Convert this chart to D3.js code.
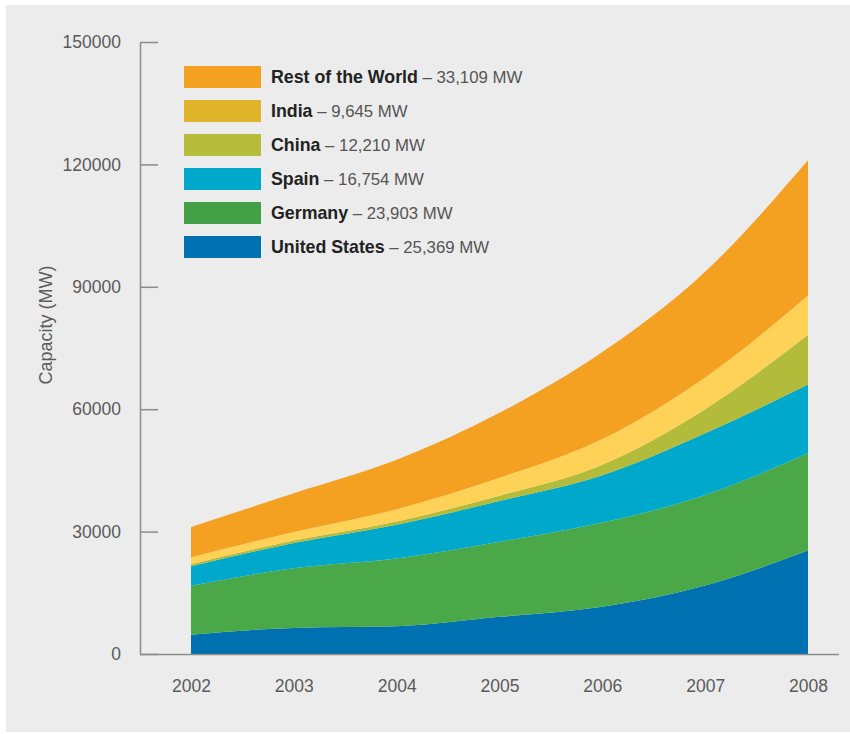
<!DOCTYPE html>
<html>
<head>
<meta charset="utf-8">
<script src="https://cdn.jsdelivr.net/npm/d3@7"></script>
<style>
  body { margin: 0; background: #fff; }
  #chart { position: absolute; left: 0; top: 0; }
  text { font-family: "Liberation Sans", Arial, sans-serif; }
</style>
</head>
<body>
<div id="chart"></div>
<script>
// data (MW, cumulative installed capacity)
var years = [2002, 2003, 2004, 2005, 2006, 2007, 2008];
var unitedStates = [4700, 6400, 6800, 9100, 11600, 16800, 25369];
var germany      = [12000, 14600, 16600, 18400, 20600, 22200, 23903];
var spain        = [4800, 6200, 8300, 10000, 11600, 15100, 16754];
var china        = [500, 600, 800, 1300, 2600, 5900, 12210];
var india        = [1700, 2100, 3000, 4400, 6300, 7800, 9645];
var restOfWorld  = [7400, 9500, 12100, 15900, 21300, 25900, 33109];
var yTicks = [0, 30000, 60000, 90000, 120000, 150000];

var seriesNames = ["United States", "Germany", "Spain", "China", "India", "Rest of the World"];
var areaColors  = ["#0071b0", "#4aa848", "#00a8cc", "#b3bb3b", "#fed157", "#f4a020"];
var swatchColors = ["#0071b0", "#43a047", "#00a8cc", "#b5bd3a", "#dfb42a", "#f4a020"];
var legendValues = ["25,369 MW", "23,903 MW", "16,754 MW", "12,210 MW", "9,645 MW", "33,109 MW"];

var table = years.map(function(yr, i) {
  return {
    year: yr,
    "United States": unitedStates[i],
    "Germany": germany[i],
    "Spain": spain[i],
    "China": china[i],
    "India": india[i],
    "Rest of the World": restOfWorld[i]
  };
});

var W = 850, H = 734;

var svg = d3.select("#chart")
  .append("svg")
  .attr("width", W)
  .attr("height", H);

// panel background
svg.append("rect")
  .attr("x", 6).attr("y", 5)
  .attr("width", 844).attr("height", 727)
  .attr("fill", "#ececec");

var x = d3.scalePoint()
  .domain(years)
  .range([191, 808]);

var y = d3.scaleLinear()
  .domain([0, 150000])
  .range([654, 42]);

var stack = d3.stack().keys(seriesNames);
var layers = stack(table);

var area = d3.area()
  .x(function(d) { return x(d.data.year); })
  .y0(function(d) { return y(d[0]); })
  .y1(function(d) { return y(d[1]); })
  .curve(d3.curveMonotoneX);

svg.append("g")
  .selectAll("path")
  .data(layers)
  .enter()
  .append("path")
    .attr("d", area)
    .attr("fill", function(d, i) { return areaColors[i]; });

// y axis
var yAxis = svg.append("g")
  .attr("transform", "translate(140,0)")
  .call(d3.axisLeft(y)
    .tickValues(yTicks)
    .tickFormat(d3.format("d"))
    .tickSizeInner(-18)
    .tickSizeOuter(0)
    .tickPadding(19));
yAxis.select(".domain").attr("stroke", "#8c8c8c").attr("stroke-width", 1.5);
yAxis.selectAll(".tick line").attr("stroke", "#8c8c8c").attr("stroke-width", 1.5);
yAxis.selectAll("text")
  .attr("fill", "#5a5a5a")
  .style("font-size", "17.5px");

// x axis
svg.append("line")
  .attr("x1", 140).attr("x2", 839)
  .attr("y1", 654.5).attr("y2", 654.5)
  .attr("stroke", "#8c8c8c")
  .attr("stroke-width", 1.5);

var xAxis = svg.append("g")
  .attr("transform", "translate(0,654)")
  .call(d3.axisBottom(x).tickSize(0).tickPadding(26));
xAxis.select(".domain").remove();
xAxis.selectAll("text")
  .attr("fill", "#5a5a5a")
  .style("font-size", "17.5px");

// y label
svg.append("text")
  .attr("transform", "translate(52,325) rotate(-90)")
  .attr("text-anchor", "middle")
  .attr("fill", "#5a5a5a")
  .style("font-size", "18px")
  .text("Capacity (MW)");

// legend, top row is the top layer
var legend = svg.append("g");
var order = [5, 4, 3, 2, 1, 0];
order.forEach(function(k, row) {
  var top = 66 + row * 34;
  legend.append("rect")
    .attr("x", 184).attr("y", top)
    .attr("width", 77).attr("height", 22)
    .attr("fill", swatchColors[k]);
  var t = legend.append("text")
    .attr("x", 271).attr("y", top + 17);
  t.append("tspan")
    .attr("font-weight", "bold")
    .attr("fill", "#222")
    .style("font-size", "17.8px")
    .text(seriesNames[k]);
  t.append("tspan")
    .attr("fill", "#555")
    .style("font-size", "16.8px")
    .text(" \u2013 " + legendValues[k]);
});
</script>
</body>
</html>
